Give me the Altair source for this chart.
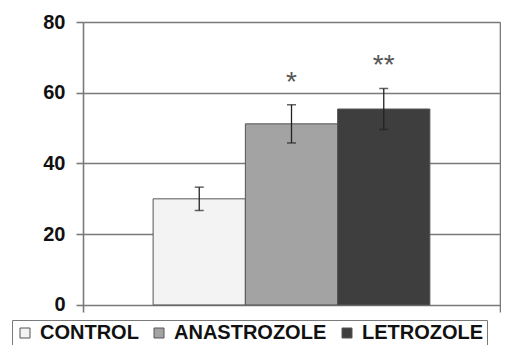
import altair as alt
import pandas as pd

groups = ["CONTROL", "ANASTROZOLE", "LETROZOLE"]
means = [30.0, 51.2, 55.4]
errors = [3.3, 5.4, 5.8]
stars = ["", "*", "**"]
fills = ["#f3f3f3", "#a3a3a3", "#3e3e3e"]
y_ticks = [0, 20, 40, 60, 80]

df = pd.DataFrame({
    "group": groups,
    "mean": means,
    "lower": [m - e for m, e in zip(means, errors)],
    "upper": [m + e for m, e in zip(means, errors)],
    "star": stars,
})

FONT = "Liberation Sans"
GRID = "#7a7a7a"

xenc = alt.X("group:N", sort=groups, axis=None,
             scale=alt.Scale(paddingInner=0, paddingOuter=0.76))
yscale = alt.Scale(domain=[-2, 80], nice=False, zero=False)

bars = alt.Chart(df).mark_bar(stroke="#555555", strokeWidth=1).encode(
    x=xenc,
    y=alt.Y("mean:Q", scale=yscale, title=None,
            axis=alt.Axis(values=y_ticks, grid=True, gridColor=GRID, gridWidth=1.6,
                          domainColor=GRID, domainWidth=1.6, tickColor=GRID,
                          tickWidth=1.6, tickSize=7, labelPadding=11,
                          labelFont=FONT, labelFontSize=20, labelFontWeight="bold",
                          labelColor="#111111")),
    color=alt.Color("group:N", sort=groups,
                    scale=alt.Scale(domain=groups, range=fills),
                    legend=alt.Legend(title=None, orient="none", direction="horizontal",
                                      legendX=-71, legendY=298,
                                      symbolType="square", symbolSize=100,
                                      symbolStrokeColor="#555555", symbolStrokeWidth=1,
                                      labelFont=FONT, labelFontSize=20,
                                      labelFontWeight="bold", labelColor="#111111",
                                      labelOffset=5, columnPadding=10, padding=3,
                                      strokeColor=GRID, fillColor="white")),
)

rules = alt.Chart(df).mark_rule(color="#222222", strokeWidth=1.3).encode(
    x=xenc,
    y=alt.Y("lower:Q", scale=yscale, title=None,
            axis=alt.Axis(orient="right", labels=False, ticks=False, grid=False,
                          domainColor=GRID, domainWidth=1.6)),
    y2="upper:Q",
)

caps_lo = alt.Chart(df).mark_tick(color="#222222", size=9, thickness=1.5).encode(
    x=xenc, y=alt.Y("lower:Q", scale=yscale, axis=None))
caps_hi = alt.Chart(df).mark_tick(color="#222222", size=9, thickness=1.5).encode(
    x=xenc, y=alt.Y("upper:Q", scale=yscale, axis=None))

text = alt.Chart(df).mark_text(font=FONT, fontSize=28, color="#555555",
                               baseline="middle", dy=-22).encode(
    x=xenc, y=alt.Y("upper:Q", scale=yscale, axis=None), text="star:N")

chart = alt.layer(bars, rules, caps_lo, caps_hi, text).resolve_axis(
    y="independent"
).properties(
    width=417, height=290,
    autosize=alt.AutoSizeParams(type="none"),
    padding={"left": 75, "top": 14, "right": 1, "bottom": 33},
    background="white",
).configure_view(stroke=None)

chart.save("out.html", embed_options={"renderer": "svg", "actions": False})
